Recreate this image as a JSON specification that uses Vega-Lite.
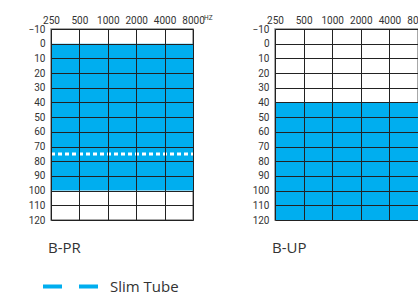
{
  "$schema": "https://vega.github.io/schema/vega-lite/v6.json",
  "padding": {"left": 27, "top": 14, "right": 0, "bottom": 0},
  "spacing": 37,
  "config": {
    "view": {"stroke": "#8c8c8c", "strokeWidth": 1.5},
    "axisX": {"orient": "top", "format": "d", "grid": true, "gridColor": "#222222", "gridWidth": 1, "domain": false, "ticks": false, "labelPadding": 4, "labelFont": "Roboto", "labelFontSize": 10, "labelColor": "#333333", "labelFlush": false},
    "axisY": {"grid": true, "gridColor": "#222222", "gridWidth": 1, "domain": false, "ticks": false, "labelPadding": 6, "labelFont": "Roboto", "labelFontSize": 10, "labelColor": "#333333"},
    "title": {"font": "Open Sans", "fontSize": 15, "fontWeight": "normal", "color": "#333333", "orient": "bottom", "anchor": "start", "frame": "group", "offset": 16, "dx": -3}
  },
  "resolve": {"scale": {"color": "shared"}},
  "hconcat": [
    {
      "width": 142,
      "height": 191,
      "title": {"text": "B-PR"},
      "encoding": {
        "x": {"field": "f1", "type": "quantitative", "scale": {"type": "log", "base": 2, "domain": [250, 8000], "nice": false}, "axis": {"title": null, "zindex": 2, "values": [250, 500, 1000, 2000, 4000, 8000]}},
        "y": {"field": "lo", "type": "quantitative", "scale": {"domain": [-10, 120], "reverse": true, "nice": false, "zero": false}, "axis": {"title": null, "zindex": 2, "values": [-10, 0, 10, 20, 30, 40, 50, 60, 70, 80, 90, 100, 110, 120]}}
      },
      "layer": [
        {
          "data": {"values": [{"f1": 250, "f2": 8000, "lo": 0, "hi": 100, "series": "Slim Tube"}]},
          "mark": {"type": "rect"},
          "encoding": {
            "x2": {"field": "f2"},
            "y2": {"field": "hi"},
            "color": {
              "field": "series", "type": "nominal",
              "scale": {"range": ["#00AEEF"]},
              "legend": {
                "title": null, "orient": "none", "legendX": -10, "legendY": 228, "padding": 0,
                "symbolType": "stroke", "symbolSize": 3025, "symbolStrokeWidth": 4,
                "symbolDash": [19, 17], "symbolStrokeColor": "#00AEEF",
                "labelFont": "Open Sans", "labelFontSize": 15, "labelColor": "#333333", "labelOffset": 10,
                "encode": {"symbols": {"update": {"stroke": {"value": "#00AEEF"}, "strokeWidth": {"value": 4}, "strokeDash": {"value": [19, 17]}}}}
              }
            }
          }
        },
        {
          "data": {"values": [{"f1": 250, "f2": 8000, "lo": 75}]},
          "mark": {"type": "rule", "color": "#ffffff", "strokeWidth": 3, "strokeDash": [4, 3]},
          "encoding": {"x2": {"field": "f2"}}
        },
        {
          "data": {"values": [{"f1": 8000, "lo": -10, "label": "HZ"}]},
          "mark": {"type": "text", "font": "Roboto", "fontSize": 6.5, "color": "#333333", "align": "left", "baseline": "alphabetic", "dx": 11, "dy": -9},
          "encoding": {"text": {"field": "label"}}
        }
      ]
    },
    {
      "width": 143,
      "height": 191,
      "title": {"text": "B-UP"},
      "encoding": {
        "x": {"field": "f1", "type": "quantitative", "scale": {"type": "log", "base": 2, "domain": [250, 8000], "nice": false}, "axis": {"title": null, "zindex": 2, "values": [250, 500, 1000, 2000, 4000, 8000]}},
        "y": {"field": "lo", "type": "quantitative", "scale": {"domain": [-10, 120], "reverse": true, "nice": false, "zero": false}, "axis": {"title": null, "zindex": 2, "values": [-10, 0, 10, 20, 30, 40, 50, 60, 70, 80, 90, 100, 110, 120]}}
      },
      "layer": [
        {
          "data": {"values": [{"f1": 250, "f2": 8000, "lo": 40, "hi": 120, "series": "Slim Tube"}]},
          "mark": {"type": "rect"},
          "encoding": {
            "x2": {"field": "f2"},
            "y2": {"field": "hi"},
            "color": {"field": "series", "type": "nominal"}
          }
        }
      ]
    }
  ]
}
